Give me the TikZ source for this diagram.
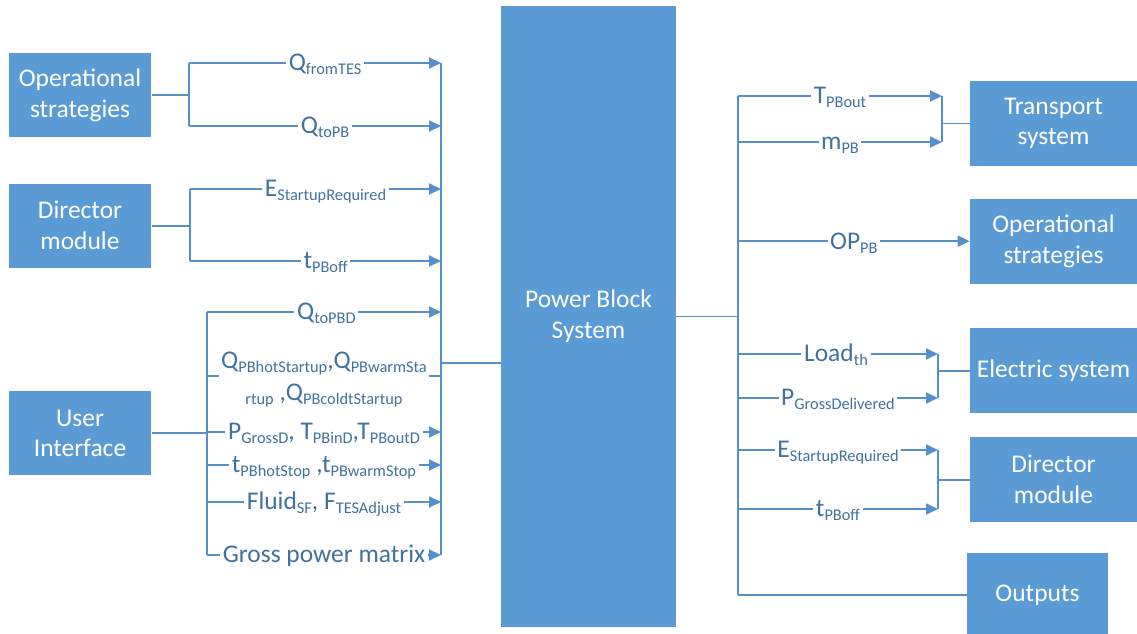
\documentclass[tikz,border=0pt]{standalone}
\usepackage{fontspec}
\setmainfont{Carlito}
\usetikzlibrary{positioning}
\usetikzlibrary{arrows.meta}
\definecolor{boxblue}{HTML}{5B9BD5}
\definecolor{lineblue}{HTML}{5590CD}
\definecolor{textblue}{HTML}{41719C}
\tikzset{main node/.style={shape=rectangle, align=center,
    fill=boxblue, text=white, font=\fontsize{14.5}{17.5}\selectfont,
    minimum width=3.34cm, minimum height=1.7cm, inner sep=2pt}}
\tikzset{sig/.style={draw=lineblue, line width=1.1pt}}
\tikzset{arr/.style={sig, -{Triangle[length=0.24cm,width=0.22cm]}}}
\tikzset{lbl/.style={fill=white, text=textblue, inner sep=1.5pt, align=center,
    font=\fontsize{14.5}{18.7}\selectfont, anchor=base, yshift=-4.5pt}}
\newcommand{\sbs}[1]{\raisebox{-2.3pt}{\fontsize{9.3}{10}\selectfont #1}}

\begin{document}
\begin{tikzpicture}[x=0.02cm, y=-0.02cm]
    \useasboundingbox (0,0) rectangle (1137,634);

    \node[main node, minimum width=3.5cm, minimum height=12.42cm] (1) at (588.5,316.5) {Power Block\\System};

    % inputs
    \node[main node, minimum width=2.86cm, minimum height=1.68cm] (2) at (80,95) {Operational\\strategies};
    \node[main node, minimum width=2.86cm, minimum height=1.68cm] (3) [below = 0.92cm of 2] {Director\\module};
    \node[main node, minimum width=2.86cm, minimum height=1.68cm] (4) [below = 2.46cm of 3] {User\\Interface};

    % outputs
    \node[main node] (5) at (1053.5,123.5) {Transport\\system};
    \node[main node] (6) [below = 0.64cm of 5] {Operational\\strategies};
    \node[main node] (7) [below = 0.88cm of 6] {Electric system};
    \node[main node] (8) [below = 0.46cm of 7] {Director\\module};
    \node[main node, minimum width=2.82cm, below = 0.6cm of 8.south west, anchor=north west, xshift=-0.06cm] (9) {Outputs};

    \coordinate (a1) at (189,63);
    \coordinate (a2) at (189,126);
    \coordinate (b1) at (190,189);
    \coordinate (b2) at (190,261);
    \coordinate (c1) at (207,312);
    \coordinate (c2) at (207,376);
    \coordinate (c3) at (207,432);
    \coordinate (c4) at (207,465);
    \coordinate (c5) at (207,502);
    \coordinate (c6) at (207,555);
    \coordinate (inbus) at (441,63);
    \coordinate (injoin) at (441,363);

    \coordinate (outbus) at (738,96);
    \coordinate (t1) at (942,96);
    \coordinate (t2) at (942,142);
    \coordinate (e1) at (938,354);
    \coordinate (e2) at (938,398);
    \coordinate (d1) at (938,450);
    \coordinate (d2) at (938,509);

    % left side
    \path[sig]
    (2.east) edge (2.east -| a1)
    (a1) edge (a2)
    (3.east) edge (3.east -| b1)
    (b1) edge (b2)
    (4.east) edge (4.east -| c1)
    (c1) edge (c6)
    (inbus) edge (inbus |- c6)
    (injoin) edge (injoin -| 1.west)
    ;
    \draw[arr] (a1) -- (a1 -| inbus) node[lbl, pos=.54] {Q\sbs{fromTES}};
    \draw[arr] (a2) -- (a2 -| inbus) node[lbl, pos=.54] {Q\sbs{toPB}};
    \draw[arr] (b1) -- (b1 -| inbus) node[lbl, pos=.54] {E\sbs{StartupRequired}};
    \draw[arr] (b2) -- (b2 -| inbus) node[lbl, pos=.54] {t\sbs{PBoff}};
    \draw[arr] (c1) -- (c1 -| inbus) node[lbl, pos=.51] {Q\sbs{toPBD}};
    \draw[sig] (c2) -- (c2 -| inbus) node[lbl, pos=.5, anchor=center, yshift=2.5pt]
        {Q\sbs{PBhotStartup},Q\sbs{PBwarmSta}\\\sbs{rtup} ,Q\sbs{PBcoldtStartup}};
    \draw[arr] (c3) -- (c3 -| inbus) node[lbl, pos=.5] {P\sbs{GrossD}, T\sbs{PBinD},T\sbs{PBoutD}};
    \draw[arr] (c4) -- (c4 -| inbus) node[lbl, pos=.5] {t\sbs{PBhotStop} ,t\sbs{PBwarmStop}};
    \draw[arr] (c5) -- (c5 -| inbus) node[lbl, pos=.5] {Fluid\sbs{SF}, F\sbs{TESAdjust}};
    \draw[arr] (c6) -- (c6 -| inbus) node[lbl, pos=.5] {Gross power matrix};

    % right side
    \path[sig]
    (1.east) edge (1.east -| outbus)
    (outbus) edge (outbus |- 9.west)
    (outbus |- 9.west) edge (9.west)
    (t1) edge (t2)
    (5.west -| t1) edge (5.west)
    (e1) edge (e2)
    (7.west -| e1) edge (7.west)
    (d1) edge (d2)
    (8.west -| d1) edge (8.west)
    ;
    \draw[arr] (outbus) -- (t1) node[lbl, pos=.5] {T\sbs{PBout}};
    \draw[arr] (outbus |- t2) -- (t2) node[lbl, pos=.5] {m\sbs{PB}};
    \draw[arr] (outbus |- 6.west) -- (6.west) node[lbl, pos=.5] {OP\sbs{PB}};
    \draw[arr] (outbus |- e1) -- (e1) node[lbl, pos=.49] {Load\sbs{th}};
    \draw[arr] (outbus |- e2) -- (e2) node[lbl, pos=.5] {P\sbs{GrossDelivered}};
    \draw[arr] (outbus |- d1) -- (d1) node[lbl, pos=.5] {E\sbs{StartupRequired}};
    \draw[arr] (outbus |- d2) -- (d2) node[lbl, pos=.5] {t\sbs{PBoff}};
\end{tikzpicture}
\end{document}
